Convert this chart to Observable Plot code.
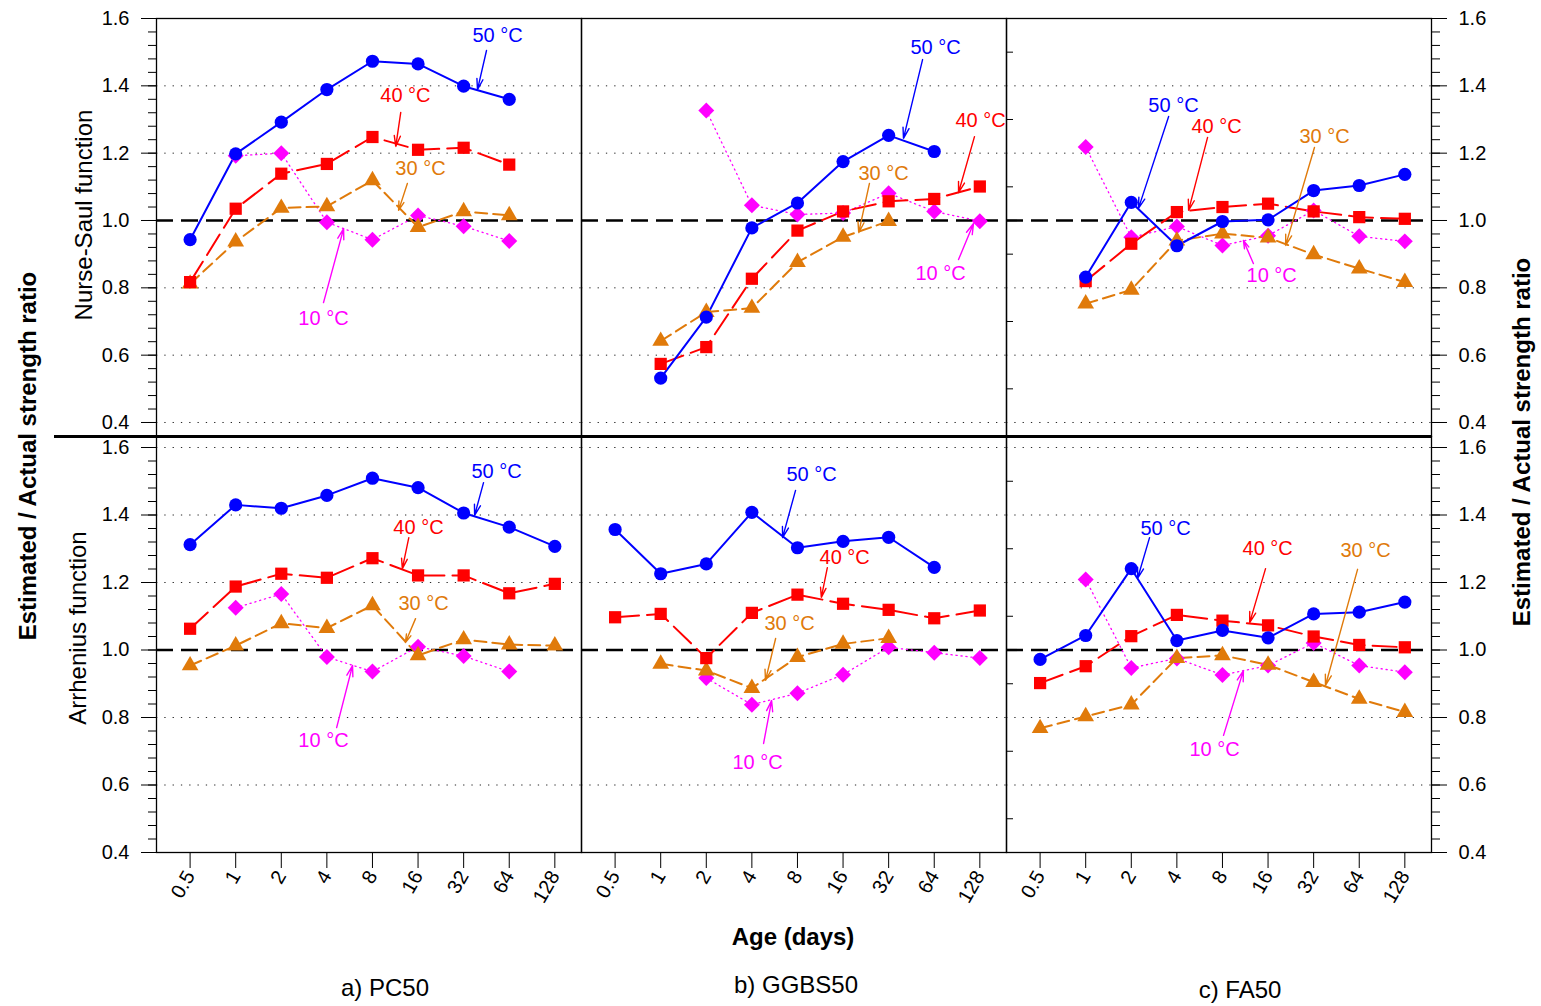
<!DOCTYPE html>
<html>
<head>
<meta charset="utf-8">
<script src="https://cdn.jsdelivr.net/npm/d3@7"></script>
<script src="https://cdn.jsdelivr.net/npm/@observablehq/plot@0.6"></script>
<style>
  html, body { margin: 0; padding: 0; background: #fff; }
  #chart { position: relative; width: 1541px; height: 1006px; background: #fff; font-family: "Liberation Sans", Arial, sans-serif; }
  .lbl { position: absolute; white-space: nowrap; color: #000; line-height: 1; }
</style>
</head>
<body>
<div id="chart"></div>
<script>
// ---------- categories ----------
const mats = ["PC50", "GGBS50", "FA50"];
const captions = ["a) PC50", "b) GGBS50", "c) FA50"];
const ages = [0.5, 1, 2, 4, 8, 16, 32, 64, 128];
const temps = [10, 30, 40, 50];
const yMajor = [0.4, 0.6, 0.8, 1.0, 1.2, 1.4, 1.6];
const yGrid = [0.4, 0.6, 0.8, 1.2, 1.4, 1.6];
const yMinor = d3.range(0.4, 1.6001, 0.04);
const yOdd = [0.5, 0.7, 0.9, 1.1, 1.3, 1.5];

// ---------- Nurse-Saul function (top row) ----------
const ns_pc_50 = [0.943, 1.198, 1.292, 1.389, 1.473, 1.465, 1.399, 1.360, null];
const ns_pc_40 = [0.817, 1.035, 1.139, 1.168, 1.248, 1.210, 1.216, 1.166, null];
const ns_pc_30 = [0.812, 0.937, 1.037, 1.042, 1.119, 0.980, 1.027, 1.015, null];
const ns_pc_10 = [null, 1.192, 1.200, 0.995, 0.943, 1.015, 0.983, 0.939, null];

const ns_gg_50 = [null, 0.532, 0.713, 0.978, 1.052, 1.175, 1.253, 1.205, null];
const ns_gg_40 = [null, 0.574, 0.624, 0.827, 0.970, 1.027, 1.057, 1.064, 1.101];
const ns_gg_30 = [null, 0.642, 0.728, 0.740, 0.876, 0.951, 0.998, null, null];
const ns_gg_10 = [null, null, 1.327, 1.045, 1.018, 1.022, 1.081, 1.027, 0.998];

const ns_fa_50 = [null, 0.832, 1.054, 0.925, 0.997, 1.002, 1.089, 1.104, 1.137];
const ns_fa_40 = [null, 0.820, 0.931, 1.025, 1.040, 1.050, 1.027, 1.010, 1.005];
const ns_fa_30 = [null, 0.753, 0.794, 0.940, 0.961, 0.949, 0.899, 0.857, 0.817];
const ns_fa_10 = [null, 1.218, 0.950, 0.982, 0.926, 0.955, 1.030, 0.953, 0.938];

// ---------- Arrhenius function (bottom row) ----------
const ar_pc_50 = [1.312, 1.430, 1.420, 1.458, 1.509, 1.481, 1.406, 1.364, 1.307];
const ar_pc_40 = [1.063, 1.188, 1.226, 1.214, 1.272, 1.221, 1.221, 1.168, 1.196];
const ar_pc_30 = [0.954, 1.013, 1.079, 1.065, 1.132, 0.984, 1.031, 1.016, 1.013];
const ar_pc_10 = [null, 1.125, 1.166, 0.979, 0.936, 1.010, 0.982, 0.936, null];

const ar_gg_50 = [1.357, 1.226, 1.255, 1.408, 1.303, 1.322, 1.334, 1.245, null];
const ar_gg_40 = [1.097, 1.107, 0.976, 1.110, 1.164, 1.137, 1.119, 1.094, 1.117];
const ar_gg_30 = [null, 0.959, 0.939, 0.887, 0.979, 1.018, 1.035, null, null];
const ar_gg_10 = [null, null, 0.917, 0.838, 0.872, 0.927, 1.008, 0.992, 0.976];

const ar_fa_50 = [0.972, 1.043, 1.241, 1.028, 1.058, 1.036, 1.107, 1.112, 1.142];
const ar_fa_40 = [0.902, 0.952, 1.041, 1.104, 1.087, 1.073, 1.040, 1.015, 1.008];
const ar_fa_30 = [0.768, 0.803, 0.838, 0.976, 0.984, 0.956, 0.905, 0.855, 0.816];
const ar_fa_10 = [null, 1.209, 0.947, 0.975, 0.926, 0.954, 1.021, 0.954, 0.934];

// ---------- annotations (label position and arrow, in data units) ----------
const annNS = [
  {mat: "PC50", temp: 50, tx: 53.6, ty: 1.550, x1: 45.3, y1: 1.505, x2: 39.5, y2: 1.389},
  {mat: "PC50", temp: 40, tx: 13.2, ty: 1.371, x1: 12.3, y1: 1.321, x2: 11.4, y2: 1.220},
  {mat: "PC50", temp: 30, tx: 16.6, ty: 1.154, x1: 13.6, y1: 1.110, x2: 11.9, y2: 1.030},
  {mat: "PC50", temp: 10, tx: 3.8, ty: 0.709, x1: 3.8, y1: 0.756, x2: 5.16, y2: 0.976},
  {mat: "GGBS50", temp: 50, tx: 65.3, ty: 1.514, x1: 53.6, y1: 1.478, x2: 40.1, y2: 1.244},
  {mat: "GGBS50", temp: 40, tx: 129.4, ty: 1.297, x1: 118, y1: 1.249, x2: 92.6, y2: 1.083},
  {mat: "GGBS50", temp: 30, tx: 29.6, ty: 1.140, x1: 23.9, y1: 1.110, x2: 20.3, y2: 0.964},
  {mat: "GGBS50", temp: 10, tx: 70.4, ty: 0.843, x1: 92.6, y1: 0.884, x2: 116.3, y2: 0.991},
  {mat: "FA50", temp: 50, tx: 3.8, ty: 1.342, x1: 3.53, y1: 1.309, x2: 2.23, y2: 1.036},
  {mat: "FA50", temp: 40, tx: 7.32, ty: 1.279, x1: 6.38, y1: 1.247, x2: 4.78, y2: 1.030},
  {mat: "FA50", temp: 30, tx: 37.8, ty: 1.250, x1: 32.4, y1: 1.217, x2: 20.9, y2: 0.926},
  {mat: "FA50", temp: 10, tx: 16.9, ty: 0.837, x1: 12.8, y1: 0.872, x2: 11.0, y2: 0.941}
];
const annAR = [
  {mat: "PC50", temp: 50, tx: 52.8, ty: 1.529, x1: 43.3, y1: 1.496, x2: 37.8, y2: 1.399},
  {mat: "PC50", temp: 40, tx: 16.1, ty: 1.363, x1: 13.9, y1: 1.333, x2: 12.6, y2: 1.241},
  {mat: "PC50", temp: 30, tx: 17.4, ty: 1.138, x1: 15.4, y1: 1.093, x2: 13.2, y2: 1.022},
  {mat: "PC50", temp: 10, tx: 3.8, ty: 0.732, x1: 4.64, y1: 0.770, x2: 5.91, y2: 0.954},
  {mat: "GGBS50", temp: 50, tx: 9.91, ty: 1.520, x1: 7.77, y1: 1.473, x2: 6.38, y2: 1.333},
  {mat: "GGBS50", temp: 40, tx: 16.4, ty: 1.274, x1: 12.6, y1: 1.244, x2: 11.5, y2: 1.156},
  {mat: "GGBS50", temp: 30, tx: 7.1, ty: 1.079, x1: 5.74, y1: 1.034, x2: 4.92, y2: 0.910},
  {mat: "GGBS50", temp: 10, tx: 4.36, ty: 0.667, x1: 4.78, y1: 0.723, x2: 5.40, y2: 0.850},
  {mat: "FA50", temp: 50, tx: 3.37, ty: 1.360, x1: 2.64, y1: 1.333, x2: 2.20, y2: 1.212},
  {mat: "FA50", temp: 40, tx: 15.9, ty: 1.301, x1: 15.4, y1: 1.241, x2: 12.1, y2: 1.081},
  {mat: "FA50", temp: 30, tx: 70.4, ty: 1.295, x1: 62.4, y1: 1.239, x2: 38.3, y2: 0.895},
  {mat: "FA50", temp: 10, tx: 7.1, ty: 0.705, x1: 8.13, y1: 0.747, x2: 11.0, y2: 0.939}
];

// ---------- series styles ----------
const styles = {
  10: {color: "#ff00ff", symbol: "diamond2", r: 7.2, dash: "1.2,3.8", width: 1.3},
  30: {color: "#e07a0a", symbol: "triangle", r: 6.2, dash: "12,6", width: 2},
  40: {color: "#ff0000", symbol: "square", r: 6.9, dash: "24,8", width: 2},
  50: {color: "#0000ff", symbol: "circle", r: 6.6, dash: null, width: 2}
};

const nsTable = {
  PC50: {10: ns_pc_10, 30: ns_pc_30, 40: ns_pc_40, 50: ns_pc_50},
  GGBS50: {10: ns_gg_10, 30: ns_gg_30, 40: ns_gg_40, 50: ns_gg_50},
  FA50: {10: ns_fa_10, 30: ns_fa_30, 40: ns_fa_40, 50: ns_fa_50}
};
const arTable = {
  PC50: {10: ar_pc_10, 30: ar_pc_30, 40: ar_pc_40, 50: ar_pc_50},
  GGBS50: {10: ar_gg_10, 30: ar_gg_30, 40: ar_gg_40, 50: ar_gg_50},
  FA50: {10: ar_fa_10, 30: ar_fa_30, 40: ar_fa_40, 50: ar_fa_50}
};

function tidy(table) {
  const rows = [];
  for (const m of mats) for (const t of temps)
    table[m][t].forEach((v, i) => { if (v != null) rows.push({mat: m, temp: t, age: ages[i], v}); });
  return rows;
}

const FONT = "'Liberation Sans', Arial, sans-serif";
const FACET_W = 425;
const noText = () => "";

function rowPlot({table, ann, yDomain, height, marginTop, marginBottom, xAxis}) {
  const rows = tidy(table);
  const marks = [
    Plot.gridY(yGrid, {stroke: "#000", strokeOpacity: 0.85, strokeWidth: 1, strokeDasharray: "1.3,7"}),
    Plot.ruleY([1], {stroke: "#000", strokeWidth: 2.6, strokeDasharray: "17,8"}),
    Plot.ruleY(yOdd.map(v => ({v, mat: "FA50"})), {y: "v", fx: "mat", stroke: "#000", strokeWidth: 1, insetRight: FACET_W - 7}),
    Plot.frame({stroke: "#000", strokeWidth: 1.3})
  ];
  for (const t of temps) {
    const s = styles[t];
    const d = rows.filter(r => r.temp === t);
    marks.push(Plot.line(d, {x: "age", y: "v", fx: "mat", stroke: s.color, strokeWidth: s.width, strokeDasharray: s.dash}));
  }
  for (const t of temps) {
    const s = styles[t];
    const d = rows.filter(r => r.temp === t);
    marks.push(Plot.dot(d, {x: "age", y: "v", fx: "mat", symbol: s.symbol, r: s.r, fill: s.color, stroke: "none"}));
  }
  for (const t of temps) {
    const s = styles[t];
    const a = ann.filter(r => r.temp === t);
    marks.push(Plot.arrow(a, {x1: "x1", y1: "y1", x2: "x2", y2: "y2", fx: "mat", stroke: s.color, strokeWidth: 1.4, headLength: 12, headAngle: 32}));
    marks.push(Plot.text(a, {x: "tx", y: "ty", fx: "mat", text: d => `${d.temp} °C`, fill: s.color, fontSize: 20}));
  }
  marks.push(
    Plot.axisY(yMinor, {anchor: "left", tickSize: 8, tickFormat: noText, label: null}),
    Plot.axisY(yMajor, {anchor: "left", tickSize: 15, tickPadding: 12, tickFormat: d3.format(".1f"), label: null, fontSize: 20}),
    Plot.axisY(yMinor, {anchor: "right", tickSize: 8, tickFormat: noText, label: null}),
    Plot.axisY(yMajor, {anchor: "right", tickSize: 15, tickPadding: 12, tickFormat: d3.format(".1f"), label: null, fontSize: 20})
  );
  if (xAxis) {
    marks.push(Plot.axisX(ages, {anchor: "bottom", tickSize: 16, tickPadding: 4, tickRotate: -60, tickFormat: d => String(d), label: null, fontSize: 20}));
  }
  return Plot.plot({
    width: 1541,
    height,
    marginLeft: 156,
    marginRight: 110,
    marginTop,
    marginBottom,
    style: {fontFamily: FONT, fontSize: "20px", background: "transparent", overflow: "visible", color: "#000"},
    x: {type: "log", base: 2, domain: [0.3, 192], axis: xAxis ? undefined : null},
    y: {domain: yDomain},
    fx: {domain: mats, padding: 0, axis: null, label: null},
    marks
  });
}

const chart = document.getElementById("chart");

const topPlot = rowPlot({table: nsTable, ann: annNS, yDomain: [0.3584, 1.6], height: 440, marginTop: 18, marginBottom: 4, xAxis: false});
topPlot.style.position = "absolute"; topPlot.style.left = "0px"; topPlot.style.top = "0px";
chart.appendChild(topPlot);

const bottomPlot = rowPlot({table: arTable, ann: annAR, yDomain: [0.4, 1.6326], height: 492, marginTop: 16, marginBottom: 60, xAxis: true});
bottomPlot.style.position = "absolute"; bottomPlot.style.left = "0px"; bottomPlot.style.top = "420px";
chart.appendChild(bottomPlot);

// thick separator between the two rows
const sep = document.createElement("div");
sep.style.cssText = "position:absolute;left:54px;top:434.5px;width:1377px;height:3px;background:#000;";
chart.appendChild(sep);

function label(text, cx, cy, {rotate = 0, weight = "normal", size = 24} = {}) {
  const el = document.createElement("div");
  el.className = "lbl";
  el.textContent = text;
  el.style.left = cx + "px";
  el.style.top = cy + "px";
  el.style.fontSize = size + "px";
  el.style.fontWeight = weight;
  el.style.transform = `translate(-50%,-50%) rotate(${rotate}deg)`;
  chart.appendChild(el);
}
label("Estimated / Actual strength ratio", 28, 456, {rotate: -90, weight: "bold", size: 24});
label("Estimated / Actual strength ratio", 1522, 442, {rotate: -90, weight: "bold", size: 24});
label("Nurse-Saul function", 84, 215, {rotate: -90, size: 24});
label("Arrhenius function", 78, 628, {rotate: -90, size: 24});
label("Age (days)", 793, 937, {weight: "bold", size: 24});
const capX = [385, 796, 1240], capY = [988, 985, 990];
captions.forEach((c, i) => label(c, capX[i], capY[i], {size: 24}));
</script>
</body>
</html>
